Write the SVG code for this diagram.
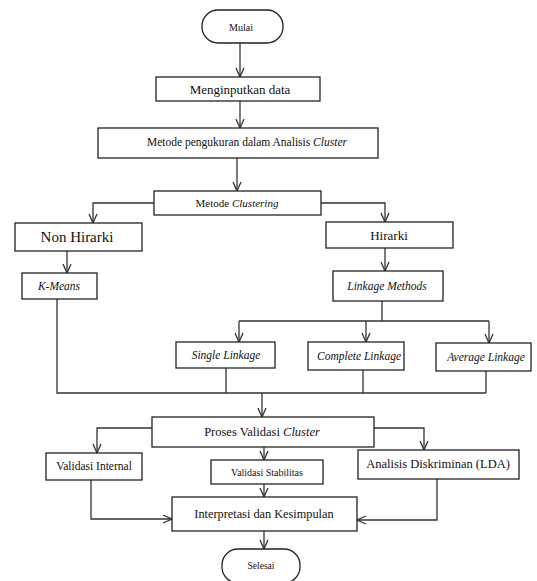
<svg xmlns="http://www.w3.org/2000/svg" width="537" height="581" viewBox="0 0 537 581">
<style>
.b{fill:#fff;stroke:#222;stroke-width:1.3}
.t{fill:#111;text-anchor:middle;dominant-baseline:central}
.i{font-style:italic}
.c{fill:none;stroke:#333;stroke-width:1.3}
</style>
<defs>
<marker id="a" viewBox="0 0 10 10" refX="10" refY="5" markerWidth="10" markerHeight="10" markerUnits="userSpaceOnUse" orient="auto">
<path d="M1,1 L10,5 L1,9" fill="none" stroke="#333" stroke-width="1.3"/>
</marker>
</defs>
<rect width="537" height="581" fill="#fff"/>
<g id="connectors">
<path class="c" d="M240,43 V77" marker-end="url(#a)"/>
<path class="c" d="M240,101 V128" marker-end="url(#a)"/>
<path class="c" d="M237,158 V191" marker-end="url(#a)"/>
<path class="c" d="M154,203 H93 V223" marker-end="url(#a)"/>
<path class="c" d="M321,203 H385 V222" marker-end="url(#a)"/>
<path class="c" d="M67,251 V273" marker-end="url(#a)"/>
<path class="c" d="M385,248 V271" marker-end="url(#a)"/>
<path class="c" d="M382,301 V321 M239,321 H489"/>
<path class="c" d="M239,321 V342" marker-end="url(#a)"/>
<path class="c" d="M366,321 V342" marker-end="url(#a)"/>
<path class="c" d="M489,321 V343" marker-end="url(#a)"/>
<path class="c" d="M57,299 V393 H486 M226,368 V393 M363,370 V393 M486,371 V393"/>
<path class="c" d="M262,393 V417" marker-end="url(#a)"/>
<path class="c" d="M152,428 H97 V453" marker-end="url(#a)"/>
<path class="c" d="M264,447 V460" marker-end="url(#a)"/>
<path class="c" d="M374,428 H424 V450" marker-end="url(#a)"/>
<path class="c" d="M264,484 V497" marker-end="url(#a)"/>
<path class="c" d="M91,480 V519 H172" marker-end="url(#a)"/>
<path class="c" d="M437,479 V520 H357" marker-end="url(#a)"/>
<path class="c" d="M264,531 V549" marker-end="url(#a)"/>
</g>
<g id="nodes" font-family="Liberation Serif, Times New Roman, serif">
<g id="mulai"><rect class="b" x="202" y="10" width="81" height="33" rx="16"/><text class="t" x="241" y="27" font-size="10">Mulai</text></g>
<g id="input"><rect class="b" x="156" y="77" width="164" height="24"/><text class="t" x="240" y="89" font-size="13">Menginputkan data</text></g>
<g id="pengukuran"><rect class="b" x="98" y="128" width="280" height="30"/><text class="t" x="247" y="142" font-size="11.5">Metode pengukuran dalam Analisis <tspan class="i">Cluster</tspan></text></g>
<g id="clustering"><rect class="b" x="154" y="191" width="167" height="24"/><text class="t" x="237" y="203" font-size="11">Metode <tspan class="i">Clustering</tspan></text></g>
<g id="nonhirarki"><rect class="b" x="15" y="223" width="127" height="28"/><text class="t" x="77" y="237" font-size="15">Non Hirarki</text></g>
<g id="hirarki"><rect class="b" x="326" y="222" width="127" height="26"/><text class="t" x="389" y="235" font-size="13">Hirarki</text></g>
<g id="kmeans"><rect class="b" x="22" y="273" width="75" height="26"/><text class="t i" x="59" y="286" font-size="11.5">K-Means</text></g>
<g id="linkage"><rect class="b" x="333" y="271" width="110" height="30"/><text class="t i" x="387" y="286" font-size="11.5">Linkage Methods</text></g>
<g id="single"><rect class="b" x="176" y="342" width="99" height="26"/><text class="t i" x="226" y="355" font-size="11.5">Single Linkage</text></g>
<g id="complete"><rect class="b" x="308" y="342" width="96" height="28"/><text class="t i" x="359" y="356" font-size="11.5">Complete Linkage</text></g>
<g id="average"><rect class="b" x="436" y="343" width="95" height="28"/><text class="t i" x="486" y="357" font-size="11.5">Average Linkage</text></g>
<g id="validasi"><rect class="b" x="152" y="417" width="222" height="30"/><text class="t" x="262" y="432" font-size="12.5">Proses Validasi <tspan class="i">Cluster</tspan></text></g>
<g id="internal"><rect class="b" x="46" y="453" width="96" height="27"/><text class="t" x="94" y="466" font-size="11.5">Validasi Internal</text></g>
<g id="stabilitas"><rect class="b" x="211" y="460" width="112" height="24"/><text class="t" x="267" y="472" font-size="10">Validasi Stabilitas</text></g>
<g id="lda"><rect class="b" x="358" y="450" width="161" height="29"/><text class="t" x="438" y="464" font-size="12.5">Analisis Diskriminan (LDA)</text></g>
<g id="interpretasi"><rect class="b" x="172" y="497" width="185" height="34"/><text class="t" x="264" y="514" font-size="12.3">Interpretasi dan Kesimpulan</text></g>
<g id="selesai"><rect class="b" x="222" y="549" width="78" height="34" rx="16"/><text class="t" x="261" y="566" font-size="9.5">Selesai</text></g>
</g>
</svg>
